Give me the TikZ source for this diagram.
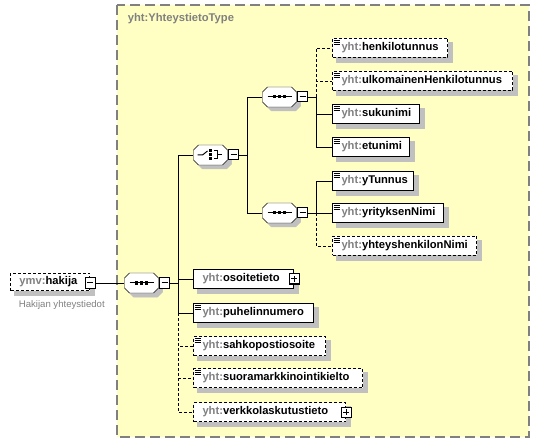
\documentclass[tikz,border=0pt]{standalone}
\usepackage{fontspec}
\setmainfont{Liberation Sans}
\usetikzlibrary{calc}
\definecolor{typefill}{HTML}{FFFFC4}
\definecolor{pfx}{HTML}{808080}
\definecolor{varjo}{HTML}{C0C0C0}
\newcommand{\yht}[1]{\textcolor{pfx}{yht:}#1}
\pgfdeclarelayer{bg}
\pgfsetlayers{bg,main}

\begin{document}
\begin{tikzpicture}[x=1pt, y=-1pt, line width=1pt]
  \tikzset{
    elem/.style={draw, fill=white, anchor=west, inner xsep=9pt, inner ysep=0pt,
      minimum height=19pt, text width=#1, align=left,
      execute at begin node={\hyphenpenalty=10000},
      font=\bfseries\fontsize{11.2}{13}\selectfont},
    opt/.style={dash pattern=on 3pt off 2pt},
    shadowbox/.style={draw=varjo, fill=varjo, line width=0.5pt},
    leaf/.style={path picture={
      \foreach \dy in {2,4,6}
        \draw[solid, line width=0.9pt] (path picture bounding box.north west) ++(1,\dy) -- ++(6,0);}},
    comp/.style={anchor=west, minimum width=34pt, minimum height=20pt, inner sep=0pt},
    octa/.style={draw, fill=white},
    seqcomp/.style={comp, path picture={
      \draw (path picture bounding box.center) ++(-12,0) -- ++(24,0);
      \foreach \dx in {-5,0,5}
        \fill[black] (path picture bounding box.center) ++(\dx,0) +(-1.5,-1.5) rectangle +(1.5,1.5);}},
    choicecomp/.style={comp, path picture={
      \draw (path picture bounding box.center) ++(-13,0) -- ++(5,0) -- ++(5,-4);
      \foreach \dy in {-4,0,4}
        \fill[black] (path picture bounding box.center) ++(0,\dy) +(-1.5,-1.5) rectangle +(1.5,1.5);
      \draw (path picture bounding box.center) ++(3,-4) -- ++(4,0) -- ++(0,8) -- ++(-4,0)
        ++(4,-4) -- ++(4,0);}},
    tog/.style={draw, fill=white, solid, minimum size=10pt, inner sep=0pt},
    minusbox/.style={tog, path picture={
      \draw (path picture bounding box.west) ++(2,0) -- ++(6,0);}},
    plusbox/.style={tog, path picture={
      \draw (path picture bounding box.west) ++(2,0) -- ++(6,0);
      \draw (path picture bounding box.north) ++(0,2) -- ++(0,6);}}
  }
  \useasboundingbox (0,0) rectangle (540,443);

  \node[anchor=west, pfx, font=\bfseries\fontsize{11.2}{13}\selectfont] (tyyppi) at (124,19) {yht:YhteystietoType};

  % Juurielementti
  \node[elem=61pt, opt, minimum height=17pt] (hakija) at (10,282) {\textcolor{pfx}{ymv:}hakija};
  \node[minusbox] (hakijaT) at ([yshift=-1pt]hakija.east) {};
  \node[anchor=west, pfx, font=\fontsize{9.6}{11}\selectfont] (kuvaus) at (15,305) {Hakijan yhteystiedot};

  % Kompositorit
  \node[seqcomp] (seqM) at (124,283) {};
  \node[minusbox, anchor=west] (seqMT) at (seqM.east) {};
  \node[choicecomp] (valinta) at (193,155) {};
  \node[minusbox, anchor=west] (valintaT) at (valinta.east) {};
  \node[seqcomp] (seqA) at (262,97) {};
  \node[minusbox, anchor=west] (seqAT) at (seqA.east) {};
  \node[seqcomp] (seqB) at (262,213) {};
  \node[minusbox, anchor=west] (seqBT) at (seqB.east) {};

  \coordinate (brM) at (178,283);
  \coordinate (brV) at (247,155);
  \coordinate (brA) at (316,97);
  \coordinate (brB) at (316,213);

  % Henkilo
  \node[elem=97pt, opt, leaf] (henkilotunnus) at (332,48) {\yht{henkilotunnus}};
  \node[elem=162pt, opt, leaf] (ulkomainen) at (332,81) {\yht{ulkomainenHenkilotunnus}};
  \node[elem=69pt, leaf] (sukunimi) at (332,114) {\yht{sukunimi}};
  \node[elem=59pt, leaf] (etunimi) at (332,147) {\yht{etunimi}};

  % Yritys
  \node[elem=63pt, leaf] (ytunnus) at (332,181) {\yht{yTunnus}};
  \node[elem=93pt, leaf] (yritys) at (332,213) {\yht{yrityksenNimi}};
  \node[elem=126pt, opt, leaf] (yhteyshlo) at (332,246) {\yht{yhteyshenkilonNimi}};

  % Muut tiedot
  \node[elem=82pt] (osoite) at (193,279) {\yht{osoitetieto}};
  \node[plusbox] (osoiteT) at (osoite.east) {};
  \node[elem=102pt, leaf] (puhelin) at (193,313) {\yht{puhelinnumero}};
  \node[elem=114pt, opt, leaf] (sahkoposti) at (193,346) {\yht{sahkopostiosoite}};
  \node[elem=151pt, opt, leaf] (suoramark) at (193,378) {\yht{suoramarkkinointikielto}};
  \node[elem=134pt, opt] (verkkolasku) at (193,412) {\yht{verkkolaskutustieto}};
  \node[plusbox] (verkkolaskuT) at (verkkolasku.east) {};

  % Tyyppi, varjot ja kompositorien reunat
  \begin{pgfonlayer}{bg}
    \draw[pfx, fill=typefill, line width=1.3pt, dash pattern=on 10pt off 5pt] (117,5) rectangle (529,437);
    \foreach \n in {hakija, henkilotunnus, ulkomainen, sukunimi, etunimi, ytunnus, yritys,
        yhteyshlo, osoite, puhelin, sahkoposti, suoramark, verkkolasku}
      \draw[shadowbox] ($(\n.north west)+(4,4)$) rectangle ($(\n.south east)+(4,4)$);
    \foreach \n in {seqM, valinta, seqA, seqB} {
      \draw[shadowbox] ($(\n.center)+(-8,-6)$) -- ++(24,0) -- ++(5,5) -- ++(0,10)
        -- ++(-5,5) -- ++(-24,0) -- ++(-5,-5) -- ++(0,-10) -- cycle;
      \draw[octa] ($(\n.center)+(-12,-10)$) -- ++(24,0) -- ++(5,5) -- ++(0,10)
        -- ++(-5,5) -- ++(-24,0) -- ++(-5,-5) -- ++(0,-10) -- cycle;
    }
  \end{pgfonlayer}

  % Yhteydet
  \draw[opt] (brM) |- (sahkoposti.west);
  \draw[opt] (brM) |- (suoramark.west);
  \draw[opt] (brM) |- (verkkolasku.west);
  \draw (hakijaT.east) -- (seqM.west);
  \draw (seqMT.east) -- (brM);
  \foreach \n in {valinta, osoite, puhelin}
    \draw (brM) |- (\n.west);

  \draw (valintaT.east) -- (brV);
  \draw (brV) |- (seqA.west);
  \draw (brV) |- (seqB.west);

  \draw[opt] (brA) |- (henkilotunnus.west);
  \draw[opt] (brA) |- (ulkomainen.west);
  \draw (seqAT.east) -- (brA);
  \draw (brA) |- (sukunimi.west);
  \draw (brA) |- (etunimi.west);

  \draw[opt] (brB) |- (yhteyshlo.west);
  \draw (seqBT.east) -- (brB);
  \draw (brB) |- (ytunnus.west);
  \draw (brB) -- (yritys.west);
\end{tikzpicture}
\end{document}
